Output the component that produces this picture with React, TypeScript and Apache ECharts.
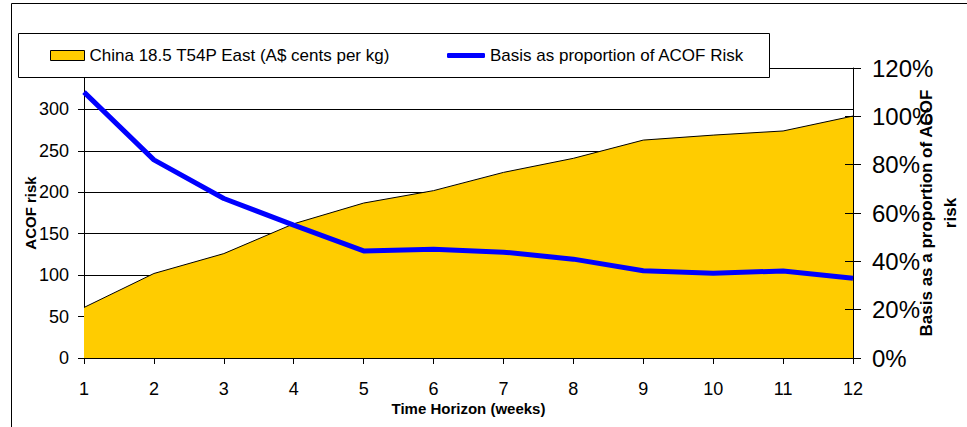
import React, { useEffect, useRef } from "react";
import * as echarts from "echarts";

const weeks = ["1", "2", "3", "4", "5", "6", "7", "8", "9", "10", "11", "12"];
const chinaPrice = [61, 102, 126, 162, 187, 202, 224, 241, 263, 269, 274, 292];
const basisPct = [110, 82, 66, 55, 44.3, 45, 43.8, 40.9, 36.1, 35.1, 36, 33];
const areaName = "China 18.5 T54P East (A$ cents per kg)";
const lineName = "Basis as proportion of ACOF Risk";

const FONT = "'Liberation Sans', Arial, sans-serif";

export default function App() {
  const ref = useRef<HTMLDivElement>(null);
  useEffect(() => {
    if (!ref.current) return;
    const chart = echarts.init(ref.current, undefined, { renderer: "svg" });
    chart.setOption({
      animation: false,
      backgroundColor: "#fff",
      textStyle: { fontFamily: FONT },
      grid: {
        left: 84,
        right: 114,
        top: 68,
        bottom: 69,
        containLabel: false,
        outerBoundsMode: "none",
      },
      graphic: [
        {
          type: "rect",
          z: 1,
          shape: { x: 11.5, y: 3.5, width: 1000, height: 1000 },
          style: { fill: "none", stroke: "#000", lineWidth: 1 },
        },
        {
          type: "rect",
          z: 10,
          shape: { x: 18.5, y: 33.5, width: 751, height: 44 },
          style: { fill: "#fff", stroke: "#000", lineWidth: 1 },
        },
      ],
      legend: [
        {
          z: 20,
          left: 50,
          top: 47,
          padding: 0,
          icon: "rect",
          itemWidth: 34,
          itemHeight: 10,
          textStyle: { fontSize: 17, color: "#000", fontFamily: FONT },
          data: [
            {
              name: areaName,
              itemStyle: { color: "#FFCC00", borderColor: "#000", borderWidth: 1 },
            },
          ],
        },
        {
          z: 20,
          left: 447,
          top: 47,
          padding: 0,
          icon: "roundRect",
          itemWidth: 38,
          itemHeight: 5,
          textStyle: { fontSize: 17, color: "#000", fontFamily: FONT },
          data: [{ name: lineName, itemStyle: { color: "#0000FF" } }],
        },
      ],
      xAxis: {
        type: "category",
        data: weeks,
        boundaryGap: false,
        axisLine: { lineStyle: { color: "#000", width: 1 } },
        axisTick: { show: true, length: 6, lineStyle: { color: "#000" } },
        axisLabel: { fontSize: 18, color: "#000", margin: 22, fontFamily: FONT },
        splitLine: { show: false },
        name: "Time Horizon (weeks)",
        nameLocation: "middle",
        nameGap: 43,
        nameMoveOverlap: false,
        nameTextStyle: { fontSize: 15, fontWeight: "bold", color: "#000", fontFamily: FONT },
      },
      yAxis: [
        {
          type: "value",
          min: 0,
          max: 350,
          interval: 50,
          position: "left",
          axisLine: { show: true, lineStyle: { color: "#000", width: 1 } },
          axisTick: { show: true, length: 6, lineStyle: { color: "#000" } },
          axisLabel: {
            fontSize: 18,
            color: "#000",
            margin: 15,
            fontFamily: FONT,
            formatter: (v: number) => (v === 350 ? "" : String(v)),
          },
          splitLine: { show: true, lineStyle: { color: "#000", width: 1 } },
          name: "ACOF risk",
          nameLocation: "middle",
          nameGap: 46,
          nameMoveOverlap: false,
          nameTextStyle: { fontSize: 15, fontWeight: "bold", color: "#000", fontFamily: FONT },
        },
        {
          type: "value",
          min: 0,
          max: 120,
          interval: 20,
          position: "right",
          axisLine: { show: true, lineStyle: { color: "#000", width: 1 } },
          axisTick: { show: true, length: 8, lineStyle: { color: "#000" } },
          axisLabel: {
            fontSize: 24,
            color: "#000",
            margin: 19,
            fontFamily: FONT,
            formatter: "{value}%",
          },
          splitLine: { show: false },
          name: "Basis as a proportion of ACOF\nrisk",
          nameLocation: "middle",
          nameGap: 61,
          nameMoveOverlap: false,
          nameTextStyle: {
            fontSize: 17,
            fontWeight: "bold",
            color: "#000",
            lineHeight: 24,
            align: "center",
            fontFamily: FONT,
          },
        },
        {
          type: "value",
          min: 0,
          max: 120,
          interval: 20,
          position: "right",
          axisLine: { show: false },
          axisTick: { show: true, inside: true, length: 8, lineStyle: { color: "#000" } },
          axisLabel: { show: false },
          splitLine: { show: false },
          z: 5,
        },
      ],
      series: [
        {
          name: areaName,
          type: "line",
          yAxisIndex: 0,
          data: chinaPrice,
          symbol: "none",
          z: 2,
          itemStyle: { color: "#FFCC00" },
          lineStyle: { color: "#000", width: 1 },
          areaStyle: { color: "#FFCC00", opacity: 1 },
        },
        {
          name: lineName,
          type: "line",
          yAxisIndex: 1,
          data: basisPct,
          symbol: "none",
          z: 3,
          itemStyle: { color: "#0000FF" },
          lineStyle: { color: "#0000FF", width: 5 },
        },
      ],
    });
    return () => chart.dispose();
  }, []);
  return (
    <div
      ref={ref}
      style={{ position: "absolute", left: 0, top: 0, width: 967, height: 427 }}
    />
  );
}
